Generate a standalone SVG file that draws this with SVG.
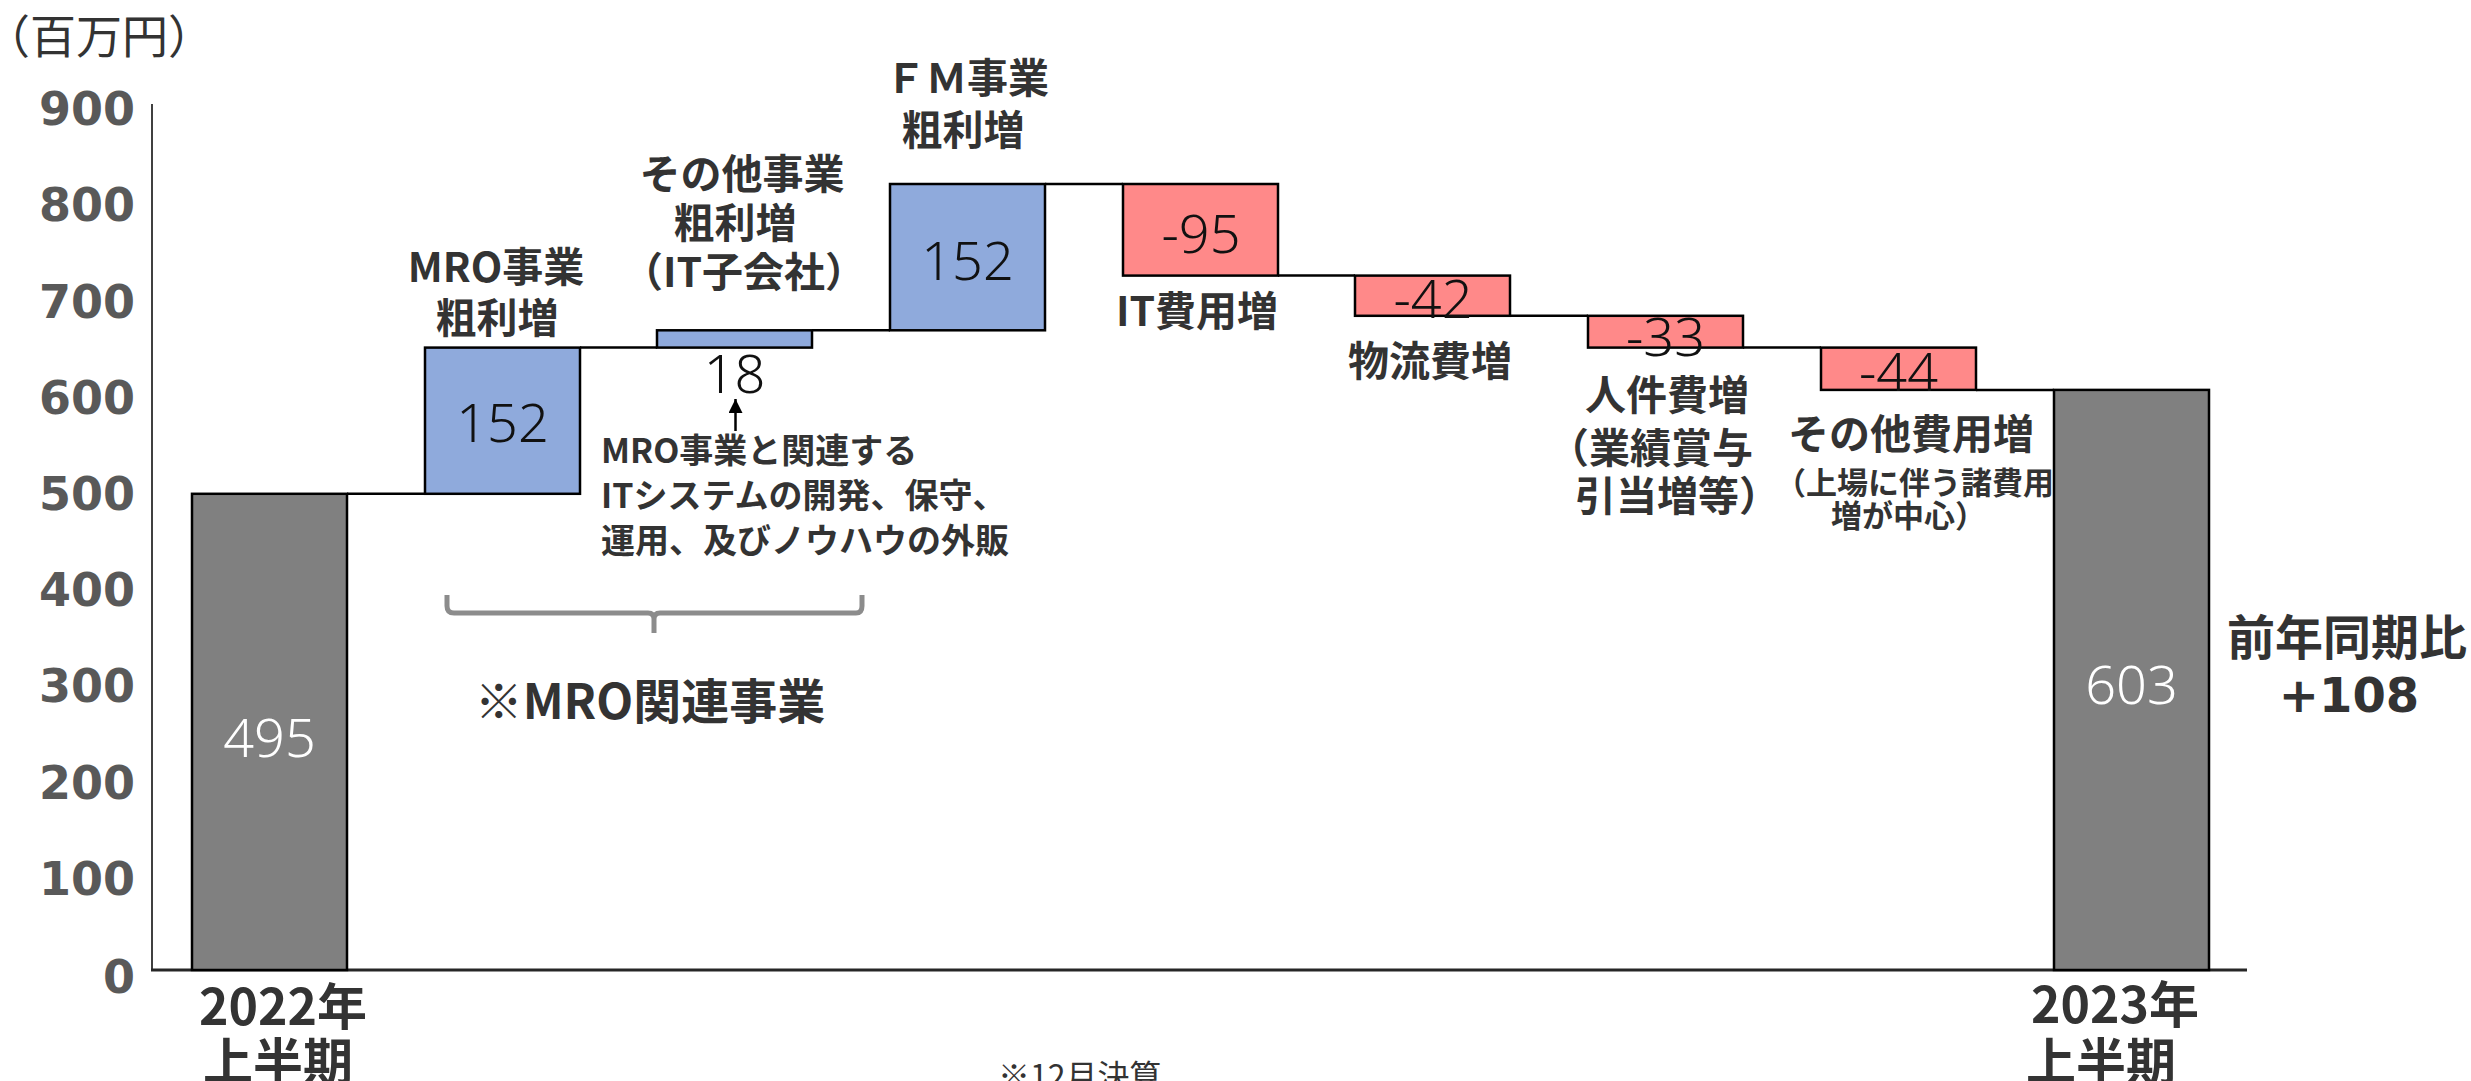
<svg xmlns="http://www.w3.org/2000/svg" width="2471" height="1081" viewBox="0 0 2471 1081">
<style>
.ax{font-family:"DejaVu Sans","Verdana",sans-serif;font-weight:bold;font-size:46px;fill:#595959;text-anchor:end}
.lb{font-family:"Noto Sans CJK JP","Noto Sans",sans-serif;font-weight:bold;font-size:41px;fill:#333333;text-anchor:middle}
.st{text-anchor:start}
.ls{font-size:31px}
.lt{font-size:34px}
.lg{font-size:50px}
.lm{font-size:48px}
.nm{font-family:"Noto Sans","Noto Sans CJK JP",sans-serif;font-weight:300;font-size:54px;fill:#111111;text-anchor:middle}
.nw{fill:#ffffff}
.gray{fill:#808080;stroke:#000;stroke-width:2.5}
.blue{fill:#8faadc;stroke:#000;stroke-width:2.5}
.red{fill:#ff8989;stroke:#000;stroke-width:2.5}
.cn{stroke:#000;stroke-width:2.5;fill:none}
.rg{font-family:"Noto Sans CJK JP","Noto Sans",sans-serif;fill:#333333}
</style>
<defs>
<marker id="ah" markerUnits="userSpaceOnUse" markerWidth="15" markerHeight="15" refX="14" refY="7" orient="auto">
<path d="M0,0 L14,7 L0,14 z" fill="#000"/>
</marker>
</defs>
<rect width="2471" height="1081" fill="#ffffff"/>
<g id="axes">
<line x1="152" y1="104" x2="152" y2="970" stroke="#404040" stroke-width="2"/>
<line x1="151" y1="970" x2="2247" y2="970" stroke="#262626" stroke-width="3"/>
<text class="rg" x="-16" y="53" style="font-size:46px">（百万円）</text>
<text class="ax" x="135" y="125">900</text>
<text class="ax" x="135" y="221">800</text>
<text class="ax" x="135" y="318">700</text>
<text class="ax" x="135" y="414">600</text>
<text class="ax" x="135" y="510">500</text>
<text class="ax" x="135" y="606">400</text>
<text class="ax" x="135" y="702">300</text>
<text class="ax" x="135" y="799">200</text>
<text class="ax" x="135" y="895">100</text>
<text class="ax" x="135" y="993">0</text>
</g>
<g id="connectors">
<line class="cn" x1="347" y1="493.8" x2="425" y2="493.8"/>
<line class="cn" x1="580" y1="347.6" x2="657" y2="347.6"/>
<line class="cn" x1="812" y1="330.3" x2="890" y2="330.3"/>
<line class="cn" x1="1045" y1="184" x2="1123" y2="184"/>
<line class="cn" x1="1278" y1="275.6" x2="1355" y2="275.6"/>
<line class="cn" x1="1510" y1="315.8" x2="1588" y2="315.8"/>
<line class="cn" x1="1743" y1="347.6" x2="1821" y2="347.6"/>
<line class="cn" x1="1976" y1="389.9" x2="2054" y2="389.9"/>
<line x1="735.5" y1="431" x2="735.5" y2="399" stroke="#000" stroke-width="2.5" marker-end="url(#ah)"/>
<path d="M447,595 V606 Q447,613 454,613 H648 Q654,613 654,619 V633 M654,619 Q654,613 660,613 H856 Q862,613 862,606 V595" fill="none" stroke="#8c8c8c" stroke-width="5"/>
</g>
<g id="bar-2022">
<rect class="gray" x="192" y="493.8" width="155" height="476.2"/>
<text class="nm nw" x="269.5" y="757">495</text>
<text class="lb lg" x="283" y="1025">2022年</text>
<text class="lb lg" x="278" y="1080">上半期</text>
</g>
<g id="bar-mro">
<rect class="blue" x="425" y="347.6" width="155" height="146.2"/>
<text class="nm" x="502.5" y="442">152</text>
<text class="lb" x="496" y="282">MRO事業</text>
<text class="lb" x="497" y="333">粗利増</text>
</g>
<g id="bar-other">
<rect class="blue" x="657" y="330.3" width="155" height="17.3"/>
<text class="nm" x="734.5" y="393">18</text>
<text class="lb" x="742" y="189">その他事業</text>
<text class="lb" x="735" y="238">粗利増</text>
<text class="lb" x="744" y="287">（IT子会社）</text>
</g>
<g id="note-it">
<text class="lb lt st" x="601" y="463">MRO事業と関連する</text>
<text class="lb lt st" x="601" y="508">ITシステムの開発、保守、</text>
<text class="lb lt st" x="601" y="553">運用、及びノウハウの外販</text>
</g>
<g id="note-mro">
<text class="lb lm" x="650" y="719">※MRO関連事業</text>
</g>
<g id="bar-fm">
<rect class="blue" x="890" y="184" width="155" height="146.3"/>
<text class="nm" x="967.5" y="280">152</text>
<text class="lb" x="967" y="93">ＦＭ事業</text>
<text class="lb" x="963" y="145">粗利増</text>
</g>
<g id="bar-it">
<rect class="red" x="1123" y="184" width="155" height="91.6"/>
<text class="nm" x="1201" y="253">-95</text>
<text class="lb" x="1197" y="326">IT費用増</text>
</g>
<g id="bar-logi">
<rect class="red" x="1355" y="275.6" width="155" height="40.2"/>
<text class="nm" x="1433" y="318">-42</text>
<text class="lb" x="1430" y="376">物流費増</text>
</g>
<g id="bar-staff">
<rect class="red" x="1588" y="315.8" width="155" height="31.8"/>
<text class="nm" x="1665.5" y="356">-33</text>
<text class="lb" x="1667" y="410">人件費増</text>
<text class="lb st" x="1548" y="463">（業績賞与</text>
<text class="lb st" x="1575" y="511">引当増等）</text>
</g>
<g id="bar-misc">
<rect class="red" x="1821" y="347.6" width="155" height="42.3"/>
<text class="nm" x="1898.5" y="391">-44</text>
<text class="lb" x="1911" y="449">その他費用増</text>
<text class="lb ls st" x="1775" y="494">（上場に伴う諸費用</text>
<text class="lb ls st" x="1831" y="527">増が中心）</text>
</g>
<g id="bar-2023">
<rect class="gray" x="2054" y="389.9" width="155" height="580.1"/>
<text class="nm nw" x="2131.5" y="704">603</text>
<text class="lb lg" x="2115" y="1023">2023年</text>
<text class="lb lg" x="2101" y="1080">上半期</text>
</g>
<g id="yoy">
<text class="lb lm" x="2347" y="655">前年同期比</text>
<text class="lb lm" x="2349" y="712" style="font-family:'DejaVu Sans',sans-serif">+108</text>
</g>
<text class="rg" x="998" y="1088" style="font-size:32px">※12月決算</text>
</svg>
